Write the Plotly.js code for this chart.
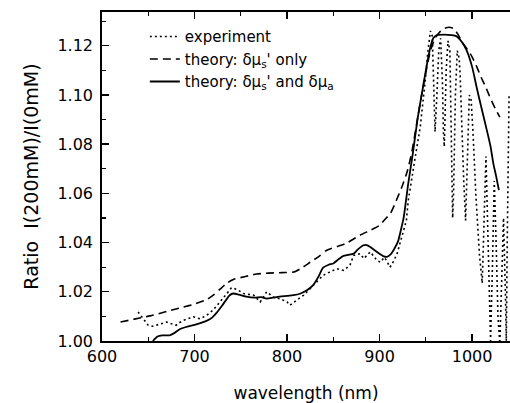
<!DOCTYPE html>
<html>
<head>
<meta charset="utf-8">
<script src="https://cdn.plot.ly/plotly-3.0.1.min.js"></script>
<style>html,body{margin:0;padding:0;background:#fff;}#chart{width:510px;height:403px;}</style>
</head>
<body>
<div id="chart"></div>
<script>
// experiment (dotted)
const expWavelength = [639, 645, 648, 650, 655, 660, 665, 670, 675, 680, 684, 688, 694, 699, 706, 713, 720, 724, 728, 735, 740, 746, 753, 758, 764, 771, 778, 785, 792, 800, 803, 810, 818, 825, 832, 839, 846, 854, 861, 868, 872, 879, 883, 890, 897, 901, 905, 908, 911, 913, 919, 924, 929, 931, 936, 940, 944, 947, 950, 952, 955, 957, 958, 959, 960, 962, 964, 966, 968, 969, 970, 972, 974, 976, 977, 978, 979, 980, 982, 984, 986, 987, 989, 991, 993, 995, 997, 999, 1001, 1004, 1008, 1011, 1013, 1015, 1016, 1018, 1020, 1022, 1024, 1026, 1028, 1030, 1032, 1034, 1036, 1037, 1038, 1040];
const expRatio = [1.0118, 1.0090, 1.0075, 1.0064, 1.0060, 1.0066, 1.0072, 1.0077, 1.0070, 1.0064, 1.0075, 1.0084, 1.0092, 1.0098, 1.0090, 1.0104, 1.0125, 1.0142, 1.0159, 1.0193, 1.0217, 1.0209, 1.0193, 1.0190, 1.0186, 1.0159, 1.0200, 1.0179, 1.0172, 1.0159, 1.0145, 1.0165, 1.0186, 1.0213, 1.0240, 1.0267, 1.0280, 1.0294, 1.0287, 1.0308, 1.0348, 1.0355, 1.0335, 1.0362, 1.0328, 1.0320, 1.0340, 1.0325, 1.0300, 1.0308, 1.0355, 1.0420, 1.0490, 1.0570, 1.0694, 1.0780, 1.0870, 1.0965, 1.1080, 1.1170, 1.1260, 1.1240, 1.1100, 1.0950, 1.0850, 1.1000, 1.1180, 1.1230, 1.1050, 1.0850, 1.0790, 1.1100, 1.1220, 1.1180, 1.0900, 1.0650, 1.0500, 1.0600, 1.1000, 1.1180, 1.1150, 1.1090, 1.0850, 1.0650, 1.0490, 1.0750, 1.1000, 1.0980, 1.0850, 1.0600, 1.0350, 1.0235, 1.0450, 1.0750, 1.0600, 1.0300, 1.0000, 1.0300, 1.0650, 1.0400, 1.0100, 0.9990, 1.0300, 1.0500, 1.0200, 1.0000, 1.0400, 1.1000];

// theory: scattering change only (dashed)
const scatWavelength = [620, 635, 652, 670, 688, 700, 713, 721, 728, 735, 742, 755, 767, 780, 795, 807, 815, 825, 835, 843, 855, 864, 879, 890, 900, 906, 912, 918, 924, 930, 935, 940, 945, 950, 955, 960, 965, 970, 975, 980, 985, 990, 995, 1000, 1005, 1010, 1015, 1020, 1025, 1030];
const scatRatio = [1.0077, 1.0089, 1.0102, 1.0120, 1.0138, 1.0150, 1.0168, 1.0188, 1.0212, 1.0235, 1.0250, 1.0262, 1.0272, 1.0276, 1.0278, 1.0280, 1.0295, 1.0320, 1.0345, 1.0369, 1.0385, 1.0397, 1.0430, 1.0450, 1.0470, 1.0495, 1.0520, 1.0570, 1.0625, 1.0690, 1.0770, 1.0880, 1.0990, 1.1090, 1.1180, 1.1230, 1.1255, 1.1270, 1.1275, 1.1270, 1.1245, 1.1210, 1.1185, 1.1155, 1.1115, 1.1070, 1.1030, 1.0985, 1.0945, 1.0910];

// theory: scattering and absorption change (solid)
const bothWavelength = [655, 660, 665, 673, 678, 684, 692, 700, 707, 713, 719, 724, 731, 738, 742, 748, 756, 765, 772, 778, 785, 792, 800, 807, 814, 821, 828, 834, 839, 845, 850, 855, 861, 866, 872, 876, 882, 886, 890, 895, 900, 904, 908, 912, 916, 920, 923, 926, 931, 936, 941, 947, 951, 955, 958, 962, 970, 978, 983, 989, 994, 1000, 1005, 1010, 1016, 1020, 1023, 1026, 1029];
const bothRatio = [1.0000, 1.0018, 1.0023, 1.0023, 1.0032, 1.0048, 1.0058, 1.0066, 1.0074, 1.0082, 1.0095, 1.0115, 1.0150, 1.0186, 1.0193, 1.0188, 1.0180, 1.0176, 1.0178, 1.0172, 1.0176, 1.0180, 1.0183, 1.0186, 1.0192, 1.0205, 1.0226, 1.0262, 1.0298, 1.0310, 1.0315, 1.0330, 1.0346, 1.0350, 1.0355, 1.0370, 1.0388, 1.0390, 1.0382, 1.0368, 1.0355, 1.0345, 1.0342, 1.0352, 1.0375, 1.0405, 1.0450, 1.0500, 1.0640, 1.0763, 1.0900, 1.1033, 1.1120, 1.1195, 1.1230, 1.1243, 1.1245, 1.1243, 1.1239, 1.1215, 1.1182, 1.1115, 1.1030, 1.0950, 1.0856, 1.0790, 1.0721, 1.0670, 1.0613];

const seriesNames = ["experiment", "theory: \u03b4\u03bc<sub>s</sub>' only", "theory: \u03b4\u03bc<sub>s</sub>' and \u03b4\u03bc<sub>a</sub>"];
const xTickVals = [600, 700, 800, 900, 1000];
const yTickVals = [1.00, 1.02, 1.04, 1.06, 1.08, 1.10, 1.12];

const FONT = "DejaVu Sans, Liberation Sans, sans-serif";

const traces = [
  {x: expWavelength, y: expRatio, name: seriesNames[0], type: "scatter", mode: "lines",
   line: {color: "#000", width: 1.6, dash: "2px,3px"}},
  {x: scatWavelength, y: scatRatio, name: seriesNames[1], type: "scatter", mode: "lines",
   line: {color: "#000", width: 1.6, dash: "8px,5px", shape: "spline", smoothing: 0.6}},
  {x: bothWavelength, y: bothRatio, name: seriesNames[2], type: "scatter", mode: "lines",
   line: {color: "#000", width: 1.8, shape: "spline", smoothing: 0.6}}
];

const layout = {
  width: 510, height: 403,
  margin: {l: 102, r: 0, t: 12, b: 62},
  paper_bgcolor: "#fff", plot_bgcolor: "#fff",
  font: {family: FONT, color: "#000", size: 16},
  showlegend: true,
  legend: {x: 0.105, y: 0.975, xanchor: "left", yanchor: "top", bgcolor: "rgba(0,0,0,0)",
           borderwidth: 0, font: {family: FONT, size: 15, color: "#000"}, itemwidth: 30},
  xaxis: {
    range: [600, 1041], tickvals: xTickVals, ticktext: xTickVals.map(String),
    ticks: "inside", ticklen: 7, tickwidth: 1.3, tickcolor: "#000",
    minor: {dtick: 50, ticks: "inside", ticklen: 4, tickwidth: 1.2, tickcolor: "#000"},
    showline: true, linecolor: "#000", linewidth: 1.8, mirror: "ticks",
    showgrid: false, zeroline: false,
    tickfont: {family: FONT, size: 16, color: "#000"},
    title: {text: "wavelength (nm)", font: {family: FONT, size: 17, color: "#000"}, standoff: 23}
  },
  yaxis: {
    range: [1.0, 1.1337], tickvals: yTickVals, ticktext: yTickVals.map(v => v.toFixed(2)),
    ticks: "inside", ticklen: 7, tickwidth: 1.3, tickcolor: "#000",
    minor: {dtick: 0.01, ticks: "inside", ticklen: 4, tickwidth: 1.2, tickcolor: "#000"},
    showline: true, linecolor: "#000", linewidth: 1.8, mirror: false,
    showgrid: false, zeroline: false, ticklabelstandoff: 4,
    tickfont: {family: FONT, size: 16, color: "#000"},
    title: {text: "Ratio  I(200mM)/I(0mM)", font: {family: FONT, size: 19, color: "#000"}, standoff: 14}
  }
};

Plotly.newPlot("chart", traces, layout, {staticPlot: true, displayModeBar: false});
</script>
</body>
</html>
